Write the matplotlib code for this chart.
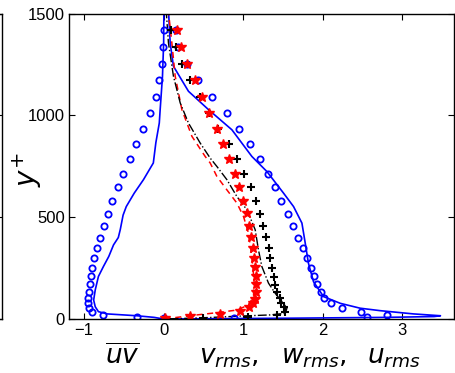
import matplotlib
matplotlib.use("Agg")
import matplotlib.pyplot as plt

# ---- DNS markers ----
y_circ = [1421, 1336, 1254, 1172, 1090, 1012, 934, 859, 785, 713, 648, 580, 518, 457,
          400, 348, 299, 252, 210, 171, 134, 105, 77, 54, 34, 21, 11, 3]
uv_circ = [0.01, -0.003, -0.019, -0.053, -0.098, -0.17, -0.254, -0.342, -0.421, -0.506,
           -0.576, -0.644, -0.702, -0.752, -0.795, -0.833, -0.87, -0.896, -0.916, -0.928,
           -0.941, -0.953, -0.953, -0.941, -0.903, -0.765, -0.337, 0.0]
u_circ = [0.16, 0.186, 0.292, 0.431, 0.607, 0.795, 0.953, 1.091, 1.208, 1.313, 1.4, 1.477,
          1.563, 1.63, 1.695, 1.75, 1.8, 1.85, 1.89, 1.93, 1.975, 2.02, 2.1, 2.24, 2.48,
          2.81, 2.56, 0.89]

y_star = [1421, 1336, 1254, 1172, 1090, 1012, 934, 859, 785, 713, 648, 580, 520, 457,
          402, 348, 299, 254, 211, 172, 134, 100, 79, 59, 39, 23, 13, 6]
v_star = [0.166, 0.216, 0.292, 0.396, 0.48, 0.576, 0.669, 0.752, 0.824, 0.891, 0.953,
          0.996, 1.047, 1.079, 1.101, 1.117, 1.138, 1.151, 1.16, 1.16, 1.16, 1.142, 1.122,
          1.079, 0.962, 0.702, 0.333, 0.019]

y_plus = [1421, 1336, 1254, 1172, 1090, 1012, 934, 859, 785, 713, 647, 580, 516, 457,
          402, 348, 299, 252, 208, 167, 134, 105, 80, 59, 36, 20, 11, 6]
w_plus = [0.094, 0.153, 0.236, 0.333, 0.459, 0.576, 0.689, 0.824, 0.921, 1.016, 1.097,
          1.164, 1.214, 1.255, 1.289, 1.318, 1.34, 1.361, 1.381, 1.403, 1.424, 1.457,
          1.474, 1.507, 1.528, 1.424, 1.06, 0.5]

# ---- model lines ----
y_uv_line = [1520, 1357, 1190, 1028, 962, 866, 766, 733, 684, 618, 552, 510, 440, 400,
             364, 307, 258, 209, 143, 93, 60, 36, 25, 16, 8, 0]
uv_line = [0.003, 0.0, -0.015, -0.044, -0.055, -0.098, -0.13, -0.18, -0.254, -0.37, -0.47,
           -0.51, -0.545, -0.57, -0.63, -0.69, -0.757, -0.82, -0.86, -0.88, -0.86, -0.82,
           -0.71, -0.34, -0.12, 0.0]

y_u_line = [1520, 1356, 1241, 1118, 1028, 929, 798, 724, 618, 552, 471, 372, 274, 183,
            110, 77, 53, 41, 25, 16, 12, 8, 4, 0]
u_line = [0.06, 0.082, 0.123, 0.312, 0.564, 0.858, 1.109, 1.298, 1.507, 1.633, 1.738,
          1.78, 1.82, 1.884, 2.01, 2.22, 2.47, 2.72, 3.14, 3.48, 3.4, 2.8, 1.6, 0.0]

y_v_line = [1520, 1356, 1192, 1028, 897, 798, 766, 700, 634, 569, 503, 421, 339, 257,
            176, 110, 69, 44, 31, 20, 0]
v_line = [0.057, 0.103, 0.145, 0.229, 0.355, 0.522, 0.585, 0.669, 0.795, 0.921, 1.004,
          1.067, 1.097, 1.122, 1.138, 1.129, 1.067, 0.921, 0.669, 0.418, 0.0]

y_w_line = [1520, 1356, 1192, 1061, 962, 864, 790, 749, 684, 601, 536, 438, 339, 257,
            176, 126, 85, 53, 28, 20, 15, 6, 0]
w_line = [0.031, 0.06, 0.123, 0.208, 0.312, 0.459, 0.585, 0.669, 0.795, 0.921, 1.047,
          1.151, 1.192, 1.235, 1.318, 1.403, 1.487, 1.55, 1.528, 1.34, 1.0, 0.5, 0.0]

xticks = [-1, 0, 1, 2, 3]
xticklabels = ["\u22121", "0", "1", "2", "3"]
yticks = [0, 500, 1000, 1500]

W, H = 455, 373
fig = plt.figure(figsize=(W / 100, H / 100), dpi=100)
plt.rcParams['font.family'] = ['Liberation Sans', 'DejaVu Sans']

left, right, bottom, top = 69 / W, 454 / W, (H - 319) / H, (H - 13.5) / H

# partial neighbouring axes at the far left
axl = fig.add_axes([-0.3, bottom, 0.3 + 2 / W, top - bottom])
axl.set_xlim(0, 1)
axl.set_ylim(0, 1500)
axl.set_xticks([])
axl.set_yticks(yticks)
axl.yaxis.tick_right()
axl.tick_params(axis='y', direction='in', length=4, labelright=False)
for s in axl.spines.values():
    s.set_linewidth(1.0)

ax = fig.add_axes([left, bottom, right - left, top - bottom])
blue = (0, 0, 1)

ax.plot(uv_line, y_uv_line, '-', color=blue, lw=1.2)
ax.plot(u_line, y_u_line, '-', color=blue, lw=1.2)
ax.plot(v_line, y_v_line, '--', color='red', lw=1.1, dashes=(4, 3))
ax.plot(w_line, y_w_line, '-.', color='black', lw=1.0)

ax.plot(uv_circ, y_circ, 'o', mfc='none', mec=blue, ms=4.5, mew=1.3)
ax.plot(u_circ, y_circ, 'o', mfc='none', mec=blue, ms=4.5, mew=1.3)
ax.plot(w_plus, y_plus, '+', color='black', ms=5.5, mew=1.5)
ax.plot(v_star, y_star, '*', color='red', mec='red', ms=7.5)

ax.set_xlim(-1.19, 3.65)
ax.set_ylim(0, 1500)
ax.set_xticks(xticks)
ax.set_xticklabels(xticklabels)
ax.set_yticks(yticks)
ax.tick_params(direction='in', length=4, top=True, right=True, labelsize=12, pad=3)
for s in ax.spines.values():
    s.set_linewidth(1.0)

fig.text(27 / W, 1 - 170 / H, r'$y^{+}$', fontsize=20, rotation=90,
         ha='center', va='center')
fs = 19
fig.text(122 / W, 1 - 356 / H, r'$\overline{uv}$', fontsize=fs, ha='center', va='center')
fig.text(199 / W, 1 - 358 / H, r'$v_{rms},$', fontsize=fs, ha='left', va='center')
fig.text(281 / W, 1 - 358 / H, r'$w_{rms},$', fontsize=fs, ha='left', va='center')
fig.text(367 / W, 1 - 358 / H, r'$u_{rms}$', fontsize=fs, ha='left', va='center')

fig.savefig('out.png', dpi=100)
